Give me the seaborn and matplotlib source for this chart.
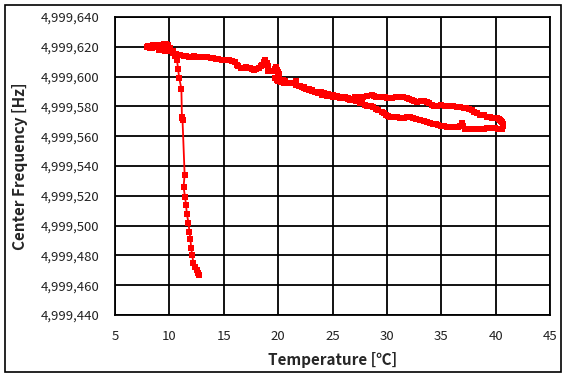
import matplotlib
matplotlib.use("Agg")
import matplotlib.pyplot as plt
import matplotlib.ticker as mticker
from matplotlib.patches import Rectangle
import seaborn as sns
import pandas as pd

# temperature [C] along the recorded path (power-on ramp -> cold -> heating -> cooling)
temp = [
    12.75, 12.6, 12.5, 12.35, 12.2, 12.1, 12.0, 11.93, 11.84, 11.75, 11.6, 11.53, 11.44, 11.3,
    11.4, 11.2, 11.25, 11.15, 11.1, 10.9, 10.8, 10.7, 10.5, 10.3, 10.1,
    10.1, 9.9, 9.7, 9.5, 9.2, 9.0, 8.7, 8.5, 8.2, 8.0, 7.9, 8.2, 8.4, 8.7, 9.0, 9.0, 9.3, 9.6,
    10.0, 10.3, 10.6,
    10.8, 11.0, 11.3, 11.5, 11.8, 12.0, 12.3, 12.5, 12.8, 13.0, 13.3, 13.5, 13.8, 14.0, 14.3,
    14.5, 14.8, 15.0, 15.3, 15.5, 15.8, 16.0, 16.2, 16.3, 16.6, 16.8, 17.0, 17.2, 17.4, 17.6,
    17.8, 18.0, 18.2, 18.4, 18.5, 18.7, 18.8, 19.0, 19.05, 19.1, 19.3, 19.5, 19.7, 19.8, 20.0,
    19.7, 19.9, 20.0, 20.3, 20.5, 20.7, 20.9, 21.1, 21.3, 21.6, 21.9, 22.2, 22.4, 22.6, 22.8,
    23.1, 23.4, 23.7, 24.0, 24.3, 24.5, 24.8, 25.0, 25.3, 25.5, 25.7, 25.9, 26.2, 26.4, 26.6,
    26.8, 27.1, 27.4, 27.8, 28.2, 28.6, 28.8, 29.0, 29.3, 29.5, 29.8, 30.0, 30.3, 30.5, 30.8,
    31.2, 31.5, 31.8, 32.0, 32.3, 32.5, 32.75, 33.1, 33.4, 33.7, 33.9, 34.1, 34.3, 34.6, 35.0,
    35.3, 35.5, 35.8, 36.1, 36.4, 36.7, 37.05, 37.3, 37.5, 37.8, 38.0, 38.3, 38.6, 38.9, 39.2,
    39.5, 39.7, 39.9, 40.1, 40.3, 40.4, 40.5, 40.6, 40.7, 40.7, 40.6,
    40.4, 40.2, 39.9, 39.7, 39.5, 39.2, 38.9, 38.6, 38.3, 38.0, 37.7, 37.4, 37.2, 37.0, 36.9,
    36.7, 36.5, 36.3, 36.0, 35.8, 35.5, 35.2, 35.0, 34.7, 34.5, 34.2, 34.0, 33.7, 33.4, 33.0,
    32.7, 32.4, 32.1, 31.8, 31.6, 31.4, 31.2, 30.9, 30.7, 30.5, 30.3, 30.1, 29.9, 29.7, 29.5,
    29.2, 29.0, 28.7, 28.5, 28.2, 28.0, 27.7, 27.5, 27.2, 27.0, 26.7, 26.4, 26.1, 25.8, 25.4,
    25.0, 24.6, 24.2, 23.9, 23.5, 23.1, 22.8, 22.4, 22.0, 21.6, 21.2, 20.9, 20.6, 20.4, 20.2,
    20.0, 20.1, 19.9,
]

# center frequency offset above 4,999,000 Hz
freq_offset = [
    466.5, 468, 470, 472, 475, 480, 485, 491, 496, 502, 508, 514, 519, 526,
    534, 572, 571, 573, 592, 599, 605, 611, 614, 617, 619,
    619, 621.5, 622, 622, 621.5, 621.5, 621, 621, 620.5, 620.5, 620, 619.5, 619.5, 620, 619.5,
    618, 618.5, 617.5, 617, 616, 615,
    614.5, 614.5, 614, 614, 613.5, 613.5, 614, 613.5, 613, 613, 613.5, 613.5, 612.5, 612.5, 612,
    612, 611.5, 611.5, 611.5, 611, 610.5, 609.5, 608, 607, 606, 606, 606.5, 606, 605.5, 605,
    604.5, 605, 606, 607, 608, 610, 611.5, 609, 607, 604, 604, 604, 605, 606.5, 603,
    599, 597.5, 597, 596.5, 596, 595.5, 595.5, 596, 595.5, 597, 593.5, 593, 592.5, 592, 591,
    590.5, 589.5, 589, 588, 588, 587, 587, 586.5, 586.5, 586, 585.5, 585.5, 585.5, 585, 584.5,
    584.5, 586.5, 586, 586, 587, 587.5, 587, 586.5, 586.5, 586.5, 586, 585.5, 585.5, 585.5, 586,
    586, 586, 585.5, 585, 584, 583.5, 583.2, 583.5, 583.8, 583, 582, 581, 580, 580.5, 581,
    580.5, 580.5, 580.5, 580, 579.5, 579.5, 579.2, 579, 578, 577.5, 576.5, 575.5, 574.5, 574, 573,
    573, 572.5, 572.5, 572, 571.5, 571, 570.5, 569.5, 568, 567, 565,
    564.8, 565, 565.2, 565.2, 565.3, 565.2, 565, 564.8, 564.8, 564.7, 564.7, 564.6, 564.6, 567, 568.7,
    567, 566.5, 566.5, 566.4, 566.4, 566.4, 566.7, 567, 567.5, 568, 568.5, 568.7, 569.5, 570.2, 571,
    571.5, 572, 572.7, 572.6, 572.5, 572.4, 572.4, 572.6, 572.8, 573, 573.1, 573.8, 574.5, 575.5, 576.4,
    577.5, 578.5, 579.5, 580, 580.5, 581, 582, 582.5, 583.5, 584, 585, 585.5, 586, 586.5, 587,
    588, 588.5, 589, 589.5, 590, 591, 592, 593, 594, 594.5, 595.5, 596, 597, 597.5, 598,
    599.5, 602, 604.5,
]

x_ticks = list(range(5, 50, 5))
y_ticks = list(range(4999440, 4999660, 20))

df = pd.DataFrame({"temp": temp, "freq": [4999000 + f for f in freq_offset]})

sns.set_style("white")
plt.rcParams["font.family"] = ["Noto Sans CJK KR", "DejaVu Sans"]

fig = plt.figure(figsize=(5.68, 3.79), dpi=100)
ax = fig.add_axes([0.2025, 0.169, 0.766, 0.786])

sns.lineplot(data=df, x="temp", y="freq", sort=False, estimator=None, ax=ax,
             color="#ff0000", linewidth=1.3, marker="s", markersize=4.3,
             markeredgewidth=0, markerfacecolor="#ff0000")

ax.set_xlim(5, 45)
ax.set_ylim(4999440, 4999640)
ax.set_xticks(x_ticks)
ax.set_yticks(y_ticks)
ax.yaxis.set_major_formatter(mticker.StrMethodFormatter("{x:,.0f}"))
ax.grid(True, color="black", linewidth=1.3)
ax.tick_params(length=0, labelsize=9.5, pad=11, colors="#222222")
for s in ax.spines.values():
    s.set_color("black")
    s.set_linewidth(1.3)

ax.set_xlabel("Temperature [℃]", fontsize=11, fontweight="bold", labelpad=6)
ax.set_ylabel("Center Frequency [Hz]", fontsize=11, fontweight="bold", labelpad=9)

fig.patches.append(Rectangle((5 / 568, 1 - 372 / 379), 556 / 568, 367 / 379,
                             transform=fig.transFigure, fill=False,
                             edgecolor="black", linewidth=1.2))

fig.savefig("out.png", dpi=100)
